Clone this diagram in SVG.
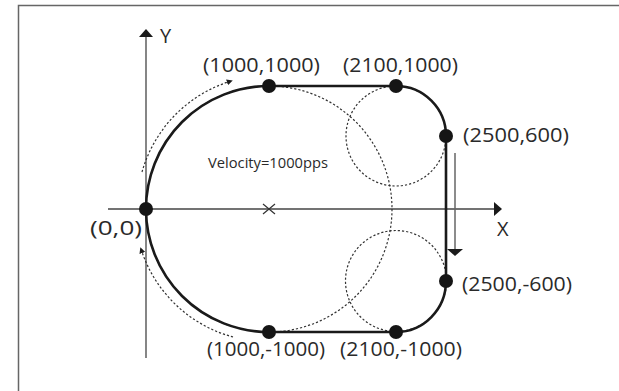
<svg xmlns="http://www.w3.org/2000/svg" width="619" height="391" viewBox="0 0 619 391">
  <style>
    .lbl { font-family: "Open Sans", "Noto Sans", "Liberation Sans", sans-serif; font-size: 20px; fill: #2a2a2a; }
    .small { font-family: "Open Sans", "Noto Sans", "Liberation Sans", sans-serif; font-size: 15px; fill: #2a2a2a; }
    .axis { stroke: #444; stroke-width: 1.3; fill: none; }
    .dot { fill: #151515; }
    .path { stroke: #1a1a1a; stroke-width: 2.6; fill: none; }
    .dotted { stroke: #333; stroke-width: 1.2; stroke-dasharray: 2.2 2; fill: none; }
  </style>
  <defs>
    <marker id="ah" viewBox="0 0 8 14" refX="0" refY="7" markerWidth="8" markerHeight="14" markerUnits="userSpaceOnUse" orient="auto">
      <path d="M0,0 L8,7 L0,14 z" fill="#1a1a1a"/>
    </marker>
    <marker id="ahs" viewBox="0 0 6 6" refX="1" refY="3" markerWidth="6" markerHeight="6" markerUnits="userSpaceOnUse" orient="auto">
      <path d="M0,0 L6,3 L0,6 z" fill="#1a1a1a"/>
    </marker>
  </defs>
  <rect width="619" height="391" fill="#fff"/>
  <rect x="18.5" y="5.5" width="700" height="500" fill="none" stroke="#666" stroke-width="1.5"/>

  <g id="axes">
    <line class="axis" x1="146" y1="358" x2="146" y2="37" marker-end="url(#ah)"/>
    <line class="axis" x1="108" y1="209" x2="494" y2="209" marker-end="url(#ah)"/>
    <text class="lbl" x="160" y="43" font-size="22">Y</text>
    <text class="lbl" x="497" y="236" font-size="22">X</text>
    <path d="M263,204 L275,214 M275,204 L263,214" stroke="#333" stroke-width="1.2"/>
  </g>

  <g id="guides">
    <circle class="dotted" cx="269" cy="209" r="123"/>
    <circle class="dotted" cx="396" cy="136" r="50"/>
    <circle class="dotted" cx="396" cy="281" r="50.5"/>
  </g>

  <g id="connectors">
    <path class="path" d="M146,209 A123,123 0 0 1 269,86 L396,86 A50,50 0 0 1 446,136 L446,281 A50,51 0 0 1 396,332 L269,332 A123,123 0 0 1 146,209"/>
    <path class="dotted" d="M142,172 A133,133 0 0 1 228,82" marker-end="url(#ahs)"/>
    <path class="dotted" d="M233,337 A133,133 0 0 1 142,252" marker-end="url(#ahs)"/>
    <line x1="455" y1="153" x2="455" y2="249" stroke="#666" stroke-width="1.5"/>
    <path d="M447,249 L463,249 L455,256 z" fill="#1a1a1a"/>
  </g>

  <g id="n-origin">
    <circle class="dot" cx="146" cy="209" r="7"/>
    <text class="lbl" x="90" y="235" textLength="52" lengthAdjust="spacingAndGlyphs">(0,0)</text>
  </g>
  <g id="n-1000-1000">
    <circle class="dot" cx="269" cy="86" r="7"/>
    <text class="lbl" x="203" y="72" textLength="117" lengthAdjust="spacingAndGlyphs">(1000,1000)</text>
  </g>
  <g id="n-2100-1000">
    <circle class="dot" cx="396" cy="86" r="7"/>
    <text class="lbl" x="343" y="72" textLength="115" lengthAdjust="spacingAndGlyphs">(2100,1000)</text>
  </g>
  <g id="n-2500-600">
    <circle class="dot" cx="446" cy="136" r="7"/>
    <text class="lbl" x="463" y="142" textLength="106" lengthAdjust="spacingAndGlyphs">(2500,600)</text>
  </g>
  <g id="n-2500-m600">
    <circle class="dot" cx="446" cy="281" r="7"/>
    <text class="lbl" x="462" y="291" textLength="110" lengthAdjust="spacingAndGlyphs">(2500,-600)</text>
  </g>
  <g id="n-2100-m1000">
    <circle class="dot" cx="396" cy="332" r="7"/>
    <text class="lbl" x="340" y="356" textLength="122" lengthAdjust="spacingAndGlyphs">(2100,-1000)</text>
  </g>
  <g id="n-1000-m1000">
    <circle class="dot" cx="269" cy="332" r="7"/>
    <text class="lbl" x="207" y="356" textLength="118" lengthAdjust="spacingAndGlyphs">(1000,-1000)</text>
  </g>
  <g id="velocity">
    <text class="small" x="208" y="168" textLength="120" lengthAdjust="spacingAndGlyphs">Velocity=1000pps</text>
  </g>
</svg>
